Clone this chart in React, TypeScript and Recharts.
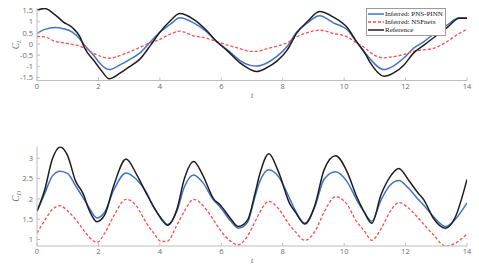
import React from 'react';
import { LineChart, Line, XAxis, YAxis, Legend } from 'recharts';

// ---------- data: lift coefficient C_L (top panel) ----------
const TOP_T = [0, 0.25, 0.6, 0.85, 1.15, 1.4, 1.55, 1.85, 2.1, 2.35, 2.7, 3.0, 3.35, 3.7, 4.0, 4.35, 4.65, 5.1, 5.5, 5.85, 6.2, 6.6, 6.95, 7.15, 7.5, 7.8, 8.15, 8.45, 8.8, 9.2, 9.65, 10.1, 10.4, 10.7, 10.85, 11.3, 11.6, 11.95, 12.25, 12.6, 12.9, 13.35, 13.75, 14];
const CL_PNS = [0.48, 0.66, 0.74, 0.69, 0.53, 0.21, -0.05, -0.52, -0.94, -1.15, -0.94, -0.71, -0.4, 0.11, 0.53, 0.9, 1.18, 0.95, 0.58, 0.11, -0.26, -0.73, -0.96, -0.99, -0.84, -0.57, -0.1, 0.53, 0.95, 1.27, 0.95, 0.64, 0.11, -0.42, -0.68, -1.15, -0.99, -0.62, -0.2, 0.11, 0.43, 0.85, 1.18, 1.17];
const CL_NSF = [0.34, 0.32, 0.11, 0.06, -0.02, -0.1, -0.2, -0.42, -0.57, -0.64, -0.52, -0.36, -0.15, 0.06, 0.21, 0.45, 0.58, 0.37, 0.27, 0.11, -0.05, -0.2, -0.33, -0.33, -0.2, -0.1, 0.06, 0.32, 0.51, 0.62, 0.48, 0.32, 0.06, -0.2, -0.38, -0.62, -0.57, -0.47, -0.33, -0.26, -0.2, 0.11, 0.48, 0.66];
const CL_REF = [1.52, 1.6, 1.3, 1.0, 0.74, 0.32, -0.18, -0.74, -1.2, -1.56, -1.31, -1.03, -0.68, -0.05, 0.53, 1.06, 1.37, 1.11, 0.64, 0.11, -0.31, -0.84, -1.15, -1.24, -1.05, -0.78, -0.26, 0.48, 1.0, 1.46, 1.21, 0.74, 0.11, -0.47, -0.84, -1.45, -1.31, -0.94, -0.42, -0.05, 0.27, 0.74, 1.16, 1.16];

// ---------- data: drag coefficient C_D (bottom panel) ----------
const BOT_T = [0, 0.25, 0.5, 0.75, 1.0, 1.25, 1.5, 1.7, 1.95, 2.2, 2.5, 2.9, 3.25, 3.55, 3.8, 4.05, 4.25, 4.55, 4.8, 5.1, 5.4, 5.75, 5.95, 6.3, 6.55, 6.85, 7.1, 7.25, 7.55, 7.85, 8.25, 8.4, 8.72, 9.05, 9.35, 9.72, 10.1, 10.4, 10.65, 10.9, 11.2, 11.5, 11.78, 12.1, 12.4, 12.6, 12.9, 13.3, 13.6, 14];
const CD_PNS = [1.69, 2.13, 2.56, 2.68, 2.62, 2.33, 2.03, 1.78, 1.53, 1.67, 2.22, 2.64, 2.47, 2.17, 1.8, 1.52, 1.37, 1.69, 2.3, 2.59, 2.4, 1.97, 1.81, 1.46, 1.28, 1.42, 2.06, 2.42, 2.72, 2.56, 1.97, 1.73, 1.4, 1.81, 2.49, 2.67, 2.42, 1.99, 1.68, 1.45, 1.97, 2.34, 2.45, 2.26, 2.0, 1.84, 1.57, 1.32, 1.48, 1.9];
const CD_NSF = [1.16, 1.47, 1.74, 1.83, 1.7, 1.5, 1.25, 1.06, 0.93, 1.15, 1.58, 1.99, 1.81, 1.42, 1.16, 0.95, 0.96, 1.35, 1.7, 1.99, 1.84, 1.48, 1.25, 0.96, 0.87, 1.08, 1.44, 1.66, 1.94, 1.77, 1.33, 1.2, 0.98, 1.2, 1.68, 2.05, 1.86, 1.45, 1.22, 0.98, 1.26, 1.69, 1.91, 1.77, 1.54, 1.37, 1.12, 0.84, 0.9, 1.14];
const CD_REF = [1.7, 2.22, 2.98, 3.28, 3.06, 2.45, 2.13, 1.72, 1.44, 1.6, 2.33, 2.98, 2.59, 2.15, 1.8, 1.5, 1.35, 1.73, 2.5, 2.92, 2.58, 2.0, 1.86, 1.52, 1.32, 1.47, 2.14, 2.6, 3.11, 2.69, 1.85, 1.69, 1.38, 1.85, 2.72, 3.06, 2.66, 2.07, 1.68, 1.4, 2.1, 2.55, 2.75, 2.46, 2.15, 1.97, 1.53, 1.28, 1.52, 2.48];

// ---------- ticks & labels ----------
const X_TICKS = [0, 2, 4, 6, 8, 10, 12, 14];
const CL_TICKS = [-1.5, -1, -0.5, 0, 0.5, 1, 1.5];
const CD_TICKS = [1, 1.5, 2, 2.5, 3];
const SERIES_NAMES = ['Inferred: PNS-PINN', 'Inferred: NSFnets', 'Reference'];

const topData = TOP_T.map((t, i) => ({ t, pns: CL_PNS[i], nsf: CL_NSF[i], ref: CL_REF[i] }));
const botData = BOT_T.map((t, i) => ({ t, pns: CD_PNS[i], nsf: CD_NSF[i], ref: CD_REF[i] }));

const AX = '#bdbdbd';
const TXT = '#6a6a6a';
const TICK_FONT = "'Open Sans', 'Noto Sans', sans-serif";
const SERIF = "'Liberation Serif', 'DejaVu Serif', serif";
const BLUE = '#4472c4';
const RED = '#ff4a4a';
const BLACK = '#1e1e1e';

const BottomTick = (p: any) => (
  <g>
    <line x1={p.x} x2={p.x} y1={p.y - 3} y2={p.y - 6} stroke={AX} strokeWidth={1} />
    <text x={p.x} y={p.y} dy="0.71em" textAnchor="middle" fontSize={7.5} fill={TXT} fontFamily={TICK_FONT}>
      {p.payload.value}
    </text>
  </g>
);
const LeftTick = (p: any) => (
  <g>
    <line x1={p.x + 4} x2={p.x + 7} y1={p.y} y2={p.y} stroke={AX} strokeWidth={1} />
    <text x={p.x} y={p.y} dy="0.355em" textAnchor="end" fontSize={7.5} fill={TXT} fontFamily={TICK_FONT}>
      {p.payload.value}
    </text>
  </g>
);
const TopTick = (p: any) => <line x1={p.x} x2={p.x} y1={p.y} y2={p.y + 3} stroke={AX} strokeWidth={1} />;
const RightTick = (p: any) => <line x1={p.x} x2={p.x - 3} y1={p.y} y2={p.y} stroke={AX} strokeWidth={1} />;

const tLabel = (props: any) => {
  const vb = props.viewBox;
  return (
    <text x={vb.x + vb.width / 2} y={vb.y + 17} textAnchor="middle" fontSize={8} fill={TXT} fontFamily={SERIF} fontStyle="italic">
      t
    </text>
  );
};
const makeYLabel = (sub: string) => (props: any) => {
  const vb = props.viewBox;
  const cx = 16;
  const cy = vb.y + vb.height / 2;
  return (
    <text x={cx} y={cy} transform={`rotate(-90 ${cx} ${cy})`} textAnchor="middle" dominantBaseline="central" fontSize={9.5} fill={TXT} fontFamily={SERIF} fontStyle="italic">
      C<tspan fontSize={6.5} dy={2}>{sub}</tspan>
    </text>
  );
};

const LegendBox = () => (
  <div style={{ border: '1px solid #9a9a9a', background: '#fff', padding: '1px 2px 1px 1px', fontFamily: SERIF, fontSize: 7, lineHeight: '8px', color: '#111' }}>
    {SERIES_NAMES.map((name, i) => (
      <div key={name} style={{ display: 'flex', alignItems: 'center', height: 8, whiteSpace: 'nowrap' }}>
        <svg width={16} height={8} style={{ display: 'block' }}>
          <line x1={0} x2={16} y1={4} y2={4} stroke={[BLUE, RED, BLACK][i]} strokeWidth={1.5} strokeDasharray={i === 1 ? '3 2' : undefined} />
        </svg>
        <span style={{ marginLeft: 1 }}>{name}</span>
      </div>
    ))}
  </div>
);

const Panel = ({ data, domain, yTicks, height, top, xAxisH, sub, legend }: any) => (
  <LineChart width={479} height={height} data={data} margin={{ top, right: 12, bottom: 0, left: 0 }}>
    <XAxis dataKey="t" type="number" domain={[0, 14]} ticks={X_TICKS} interval={0} allowDataOverflow height={xAxisH}
      axisLine={{ stroke: AX }} tickLine={false} tickSize={0} tickMargin={3} tick={<BottomTick />} label={{ content: tLabel }} />
    <XAxis xAxisId="top" orientation="top" dataKey="t" type="number" domain={[0, 14]} ticks={X_TICKS} interval={0} allowDataOverflow height={0}
      axisLine={{ stroke: AX }} tickLine={false} tickSize={0} tickMargin={0} tick={<TopTick />} />
    <YAxis type="number" domain={domain} ticks={yTicks} interval={0} allowDataOverflow width={37}
      axisLine={{ stroke: AX }} tickLine={false} tickSize={0} tickMargin={4} tick={<LeftTick />} label={{ content: makeYLabel(sub) }} />
    <YAxis yAxisId="right" orientation="right" type="number" domain={domain} ticks={yTicks} interval={0} allowDataOverflow width={0}
      axisLine={{ stroke: AX }} tickLine={false} tickSize={0} tickMargin={0} tick={<RightTick />} />
    <Line dataKey="pns" name={SERIES_NAMES[0]} type="monotone" stroke={BLUE} strokeWidth={1.5} dot={false} isAnimationActive={false} />
    <Line dataKey="nsf" name={SERIES_NAMES[1]} type="monotone" stroke={RED} strokeWidth={1.3} strokeDasharray="3 2" dot={false} isAnimationActive={false} />
    <Line dataKey="ref" name={SERIES_NAMES[2]} type="monotone" stroke={BLACK} strokeWidth={1.5} dot={false} isAnimationActive={false} />
    {legend && <Legend content={<LegendBox />} wrapperStyle={{ position: 'absolute', left: 366, top: 8, width: 'auto', height: 'auto' }} />}
  </LineChart>
);

export default function App() {
  return (
    <div style={{ position: 'absolute', left: 0, top: 0, width: 479, height: 265, background: '#fff' }}>
      <div style={{ position: 'absolute', left: 0, top: 0 }}>
        <Panel data={topData} domain={[-1.64, 1.62]} yTicks={CL_TICKS} height={130} top={8} xAxisH={21.5} sub="L" legend />
      </div>
      <div style={{ position: 'absolute', left: 0, top: 130 }}>
        <Panel data={botData} domain={[0.84, 3.29]} yTicks={CD_TICKS} height={135} top={16.5} xAxisH={19} sub="D" legend={false} />
      </div>
    </div>
  );
}
